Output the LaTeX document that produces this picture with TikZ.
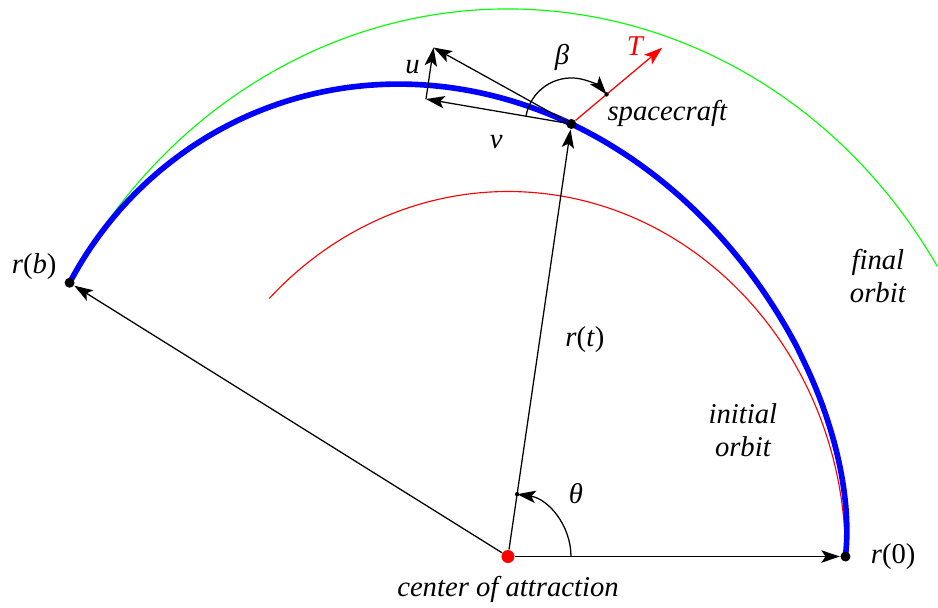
\documentclass[tikz,border=0pt]{standalone}
\usepackage{fontspec}
\setmainfont{LiberationSerif}[Extension=.ttf,UprightFont=*-Regular,ItalicFont=*-Italic,BoldFont=*-Bold]
\usepackage{tikz}
\usetikzlibrary{arrows.meta,positioning,calc}

\begin{document}
\begin{tikzpicture}[x=4.21875cm,y=4.5625cm,
  declare function={sst(\a)=3*(\a/150)^2-2*(\a/150)^3;
    orbr(\a)=1+0.5*pow(max(sst(\a),0.0001),1.65)+0.017*(1-exp(-\a/8))*(1-\a/150);},
  lbl/.style={font=\fontsize{10.2}{11.8}\selectfont\itshape,inner sep=0pt,align=center},
  vec/.style={-{Stealth[length=6.6pt,width=4.4pt,inset=1.5pt]},line width=0.45pt},
  orbit/.style={line width=0.4pt},
  traj/.style={blue,line width=2pt},
  dot/.style={circle,fill=black,inner sep=0pt,minimum size=0.125cm},
  tick/.style={circle,fill=black,inner sep=0pt,minimum size=0.055cm}
  ]
\useasboundingbox (-1.5052,-0.1384) rectangle (1.2741,1.5247);

% Orbits (initial r=1, final r=1.5) and the transfer path
\draw[orbit,green] (32:1.5) arc[start angle=32,end angle=150,x radius=1.5,y radius=1.5];
\draw[orbit,red] (0:1) arc[start angle=0,end angle=135,x radius=1,y radius=1];
\draw[traj] plot[domain=0:150,samples=76,smooth] (\x:{orbr(\x)});

% Points
\node[circle,fill=red,inner sep=0pt,minimum size=0.1625cm] (C) at (0,0) {};
\node[dot] (R0) at (0:1) {};
\node[dot] (Rb) at (150:1.5) {};
\node[dot] (S)  at (81:{orbr(81)}) {};

% Radius vectors
\draw[vec] (C) -- (R0);
\draw[vec] (C) -- (Rb);
\draw[vec] (C) -- (S);

% Velocity components and thrust
\coordinate (V) at ($(S)+(171:0.436)$);
\coordinate (W) at ($(V)+(81:0.143)$);
\coordinate (Ttip) at ($(S)+(40:1.484cm)$);
\draw[vec] (S) -- (V);
\draw[vec] (V) -- (W);
\draw[vec] (S) -- (W);
\draw[vec,red] (S) -- (Ttip);

% Angles
\node[tick] (thEnd) at ($(C)+(81.67:0.7875cm)$) {};
\draw[vec] ($(C)+(0:0.7875cm)$) arc[start angle=0,end angle=81.67,radius=0.7875cm];
\node[tick] (beEnd) at ($(S)+(40:0.575cm)$) {};
\draw[vec] ($(S)+(170.3:0.575cm)$) arc[start angle=170.3,end angle=40,radius=0.575cm];

% Labels
\node[lbl,below=0.15cm of C] (lC) {center of attraction};
\node[lbl,right=0.24cm of R0] (lR0) {r\textup{(0)}};
\node[lbl] (lRb) at (-1.404,0.793) {r\textup{(}b\textup{)}};
\node[lbl] (lRt) at (0.228,0.593) {r\textup{(}t\textup{)}};
\node[lbl] (lth) at (0.201,0.171) {θ};
\node[lbl] (lbe) at (0.160,1.366) {β};
\node[lbl] (lu) at (-0.283,1.342) {u};
\node[lbl] (lv) at (-0.035,1.136) {v};
\node[lbl,text=red] (lT) at (0.376,1.397) {T};
\node[lbl] (lS) at (0.472,1.215) {spacecraft};
\node[lbl] (lIni) at (0.696,0.347) {initial\\orbit};
\node[lbl] (lFin) at (1.096,0.768) {final\\orbit};

\end{tikzpicture}
\end{document}
